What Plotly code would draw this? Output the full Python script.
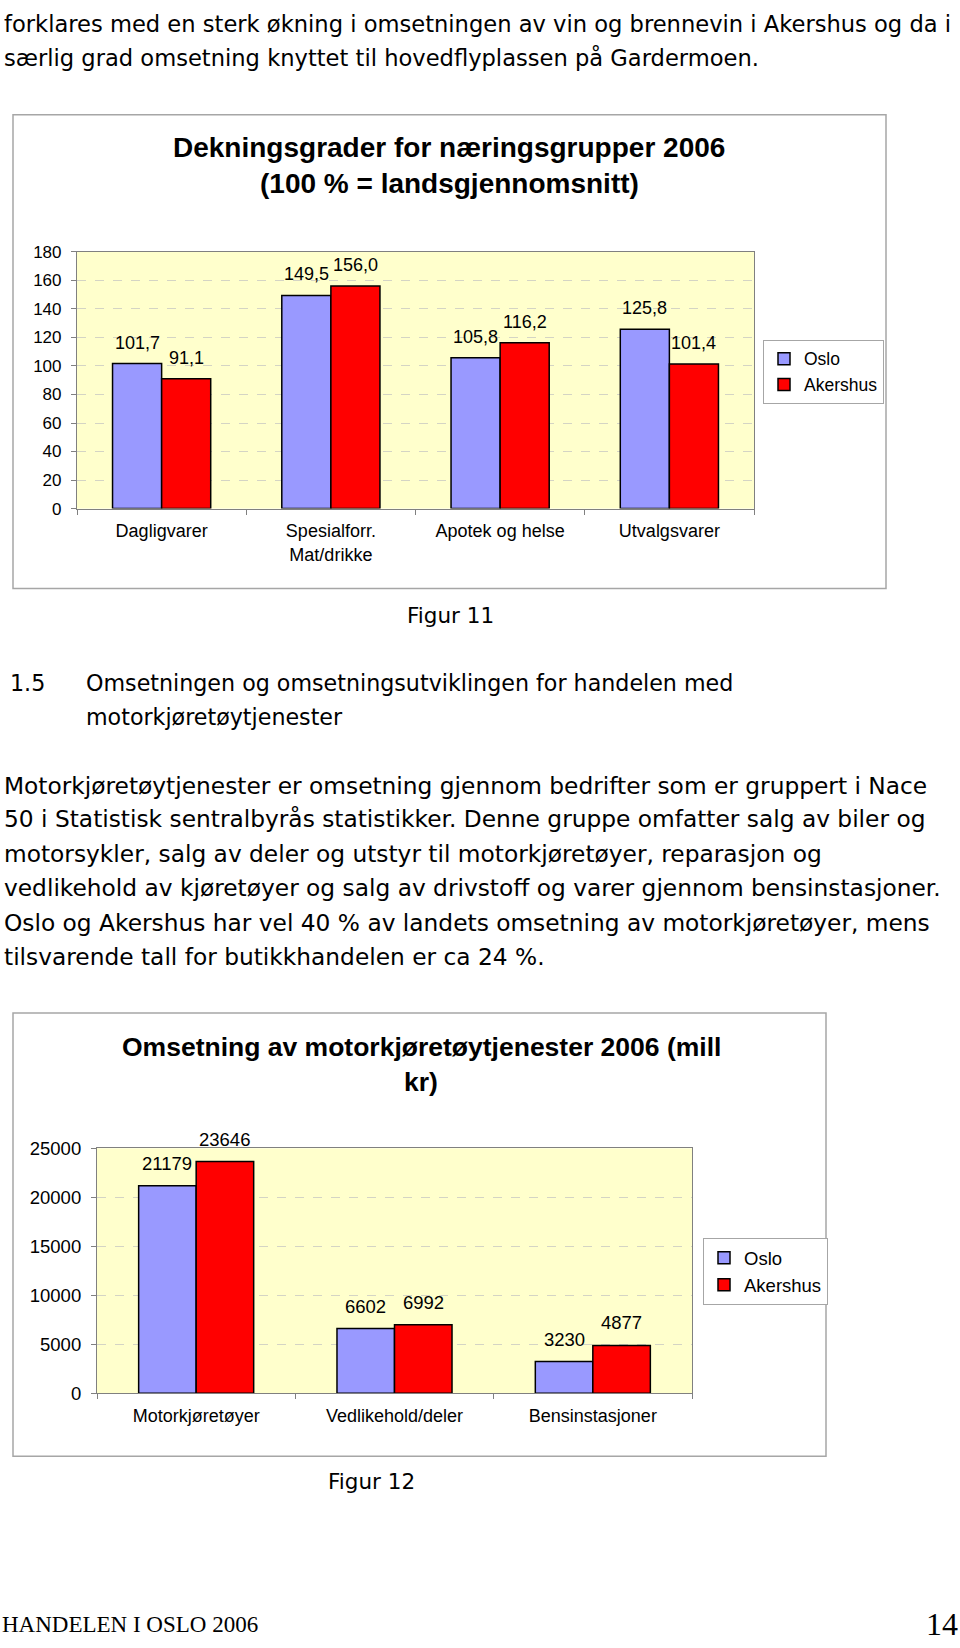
import plotly.graph_objects as go

W, H = 960, 1648

# ---------------- data ----------------
series_names = ["Oslo", "Akershus"]
series_colors = ["#9999FF", "#FF0000"]

cat1 = ["Dagligvarer", "Spesialforr.<br>Mat/drikke", "Apotek og helse", "Utvalgsvarer"]
oslo1 = [101.7, 149.5, 105.8, 125.8]
akershus1 = [91.1, 156.0, 116.2, 101.4]
yticks1 = [0, 20, 40, 60, 80, 100, 120, 140, 160, 180]
title1 = ["Dekningsgrader for næringsgrupper 2006", "(100 % = landsgjennomsnitt)"]

cat2 = ["Motorkjøretøyer", "Vedlikehold/deler", "Bensinstasjoner"]
oslo2 = [21179, 6602, 3230]
akershus2 = [23646, 6992, 4877]
yticks2 = [0, 5000, 10000, 15000, 20000, 25000]
title2 = ["Omsetning av motorkjøretøytjenester 2006 (mill", "kr)"]

top_lines = [
    "forklares med en sterk økning i omsetningen av vin og brennevin i Akershus og da i",
    "særlig grad omsetning knyttet til hovedflyplassen på Gardermoen.",
]
heading_num = "1.5"
heading_lines = [
    "Omsetningen og omsetningsutviklingen for handelen med",
    "motorkjøretøytjenester",
]
para_lines = [
    "Motorkjøretøytjenester er omsetning gjennom bedrifter som er gruppert i Nace",
    "50 i Statistisk sentralbyrås statistikker. Denne gruppe omfatter salg av biler og",
    "motorsykler, salg av deler og utstyr til motorkjøretøyer, reparasjon og",
    "vedlikehold av kjøretøyer og salg av drivstoff og varer gjennom bensinstasjoner.",
    "Oslo og Akershus har vel 40 % av landets omsetning av motorkjøretøyer, mens",
    "tilsvarende tall for butikkhandelen er ca 24 %.",
]
caption1 = "Figur 11"
caption2 = "Figur 12"
footer_left = "HANDELEN I OSLO 2006"
footer_right = "14"

# ---------------- layout helpers ----------------
def px_x(x):
    return x / W

def px_y(y):
    return 1 - y / H

CHART_FONT = "Liberation Sans, Arial, sans-serif"
BODY_FONT = "DejaVu Sans, sans-serif"
SERIF_FONT = "Liberation Serif, Times New Roman, serif"

BARGAP = 0.42
dom1_x = [px_x(77), px_x(754)]
dom1_y = [px_y(504), px_y(244)]
dom2_x = [px_x(97), px_x(692)]
dom2_y = [px_y(1400), px_y(1152)]


def half_bar_px(dom, ncat):
    cat_px = (dom[1] - dom[0]) * W / ncat
    return cat_px * (1 - BARGAP) / 4


fig = go.Figure()

# chart 1 bars
for name, color, vals, grp in zip(series_names, series_colors, [oslo1, akershus1], ["a", "b"]):
    fig.add_trace(go.Bar(
        x=cat1, y=vals, name=name, xaxis="x", yaxis="y", legend="legend",
        legendgroup="c1" + grp,
        marker=dict(color=color, line=dict(color="black", width=1.5)),
        hoverinfo="x+y+name",
    ))
# chart 2 bars
for name, color, vals, grp in zip(series_names, series_colors, [oslo2, akershus2], ["a", "b"]):
    fig.add_trace(go.Bar(
        x=cat2, y=vals, name=name, xaxis="x2", yaxis="y2", legend="legend2",
        legendgroup="c2" + grp,
        marker=dict(color=color, line=dict(color="black", width=1.5)),
        hoverinfo="x+y+name",
    ))

annotations = []

# value labels
def add_value_labels(cats, series, xref, yref, dom, fmt, size, yshift):
    hb = half_bar_px(dom, len(cats))
    for si, vals in enumerate(series):
        shift = -hb if si == 0 else hb
        for c, v in zip(cats, vals):
            annotations.append(dict(
                x=c, y=v, xref=xref, yref=yref, text=fmt(v), showarrow=False,
                xshift=shift, yshift=yshift, yanchor="bottom", xanchor="center",
                font=dict(family=CHART_FONT, size=size, color="black"),
            ))

add_value_labels(cat1, [oslo1, akershus1], "x", "y", dom1_x,
                 lambda v: f"{v:.1f}".replace(".", ","), 18, 9)
add_value_labels(cat2, [oslo2, akershus2], "x2", "y2", dom2_x,
                 lambda v: f"{v:d}", 18.5, 10)

# chart titles / page text
def text_ann(txt, x, y, size, family, xanchor="left", bold=False):
    annotations.append(dict(
        x=px_x(x), y=px_y(y), xref="paper", yref="paper",
        text=f"<b>{txt}</b>" if bold else txt, showarrow=False,
        xanchor=xanchor, yanchor="middle",
        font=dict(family=family, size=size, color="black"),
    ))

text_ann(title1[0], 449, 138, 28, CHART_FONT, "center", True)
text_ann(title1[1], 449, 175, 28, CHART_FONT, "center", True)
text_ann(title2[0], 421, 1049, 26.5, CHART_FONT, "center", True)
text_ann(title2[1], 421, 1085, 26.5, CHART_FONT, "center", True)

for txt, y in zip(top_lines, [13, 47]):
    text_ann(txt, 2, y, 22.6, BODY_FONT)
text_ann(caption1, 450, 612, 21.5, BODY_FONT, "center")
text_ann(heading_num, 8, 681, 22.2, BODY_FONT)
for txt, y in zip(heading_lines, [681, 715]):
    text_ann(txt, 84, y, 22.2, BODY_FONT)
for txt, y in zip(para_lines, [784, 818, 853, 888, 923, 958]):
    text_ann(txt, 2, y, 23.3, BODY_FONT)
text_ann(caption2, 371, 1489, 21.5, BODY_FONT, "center")
text_ann(footer_left, 0, 1634, 23, SERIF_FONT)
text_ann(footer_right, 960, 1634, 32, SERIF_FONT, "right")

# chart frames
shapes = [
    dict(type="rect", xref="paper", yref="paper", x0=px_x(13), x1=px_x(886),
         y0=px_y(585), y1=px_y(105), line=dict(color="#a6a6a6", width=1.5), layer="below"),
    dict(type="rect", xref="paper", yref="paper", x0=px_x(13), x1=px_x(826),
         y0=px_y(1464), y1=px_y(1015), line=dict(color="#a6a6a6", width=1.5), layer="below"),
]

axis_common = dict(showline=True, linecolor="#808080", linewidth=1.2, mirror=True,
                   ticks="outside", ticklen=5, tickcolor="#808080", tickwidth=1,
                   color="black", zeroline=False, fixedrange=True)

fig.update_layout(
    width=W, height=H, autosize=False,
    margin=dict(l=0, r=0, t=0, b=0),
    paper_bgcolor="white", plot_bgcolor="#FFFFCC",
    barmode="group", bargap=BARGAP, bargroupgap=0,
    font=dict(family=CHART_FONT, color="black"),
    xaxis=dict(domain=dom1_x, anchor="y", type="category", tickson="boundaries",
               showgrid=False, tickfont=dict(size=18), ticklabelstandoff=6,
               range=[-0.5, len(cat1) - 0.5], **axis_common),
    yaxis=dict(domain=dom1_y, anchor="x", range=[0, 180], tickvals=yticks1,
               showgrid=True, gridcolor="#d4d4c4", griddash="dash", gridwidth=1,
               tickfont=dict(size=17), ticklabelstandoff=6, **axis_common),
    xaxis2=dict(domain=dom2_x, anchor="y2", type="category", tickson="boundaries",
                showgrid=False, tickfont=dict(size=18), ticklabelstandoff=6,
                range=[-0.5, len(cat2) - 0.5], **axis_common),
    yaxis2=dict(domain=dom2_y, anchor="x2", range=[0, 25000], tickvals=yticks2,
                tickformat="d", showgrid=True, gridcolor="#d4d4c4", griddash="dash",
                gridwidth=1, tickfont=dict(size=18.5), ticklabelstandoff=6, **axis_common),
    legend=dict(x=px_x(763), y=px_y(333), xanchor="left", yanchor="top",
                bgcolor="white", bordercolor="#a6a6a6", borderwidth=1,
                font=dict(family=CHART_FONT, size=17.5, color="black"),
                traceorder="normal", itemwidth=30),
    legend2=dict(x=px_x(703), y=px_y(1243), xanchor="left", yanchor="top",
                 bgcolor="white", bordercolor="#a6a6a6", borderwidth=1,
                 font=dict(family=CHART_FONT, size=18.5, color="black"),
                 traceorder="normal", itemwidth=30),
    annotations=annotations,
    shapes=shapes,
)

fig.write_html(
    "out.html",
    config={"displayModeBar": False},
    post_script="document.body.style.margin='0';document.body.style.overflow='hidden';",
)
